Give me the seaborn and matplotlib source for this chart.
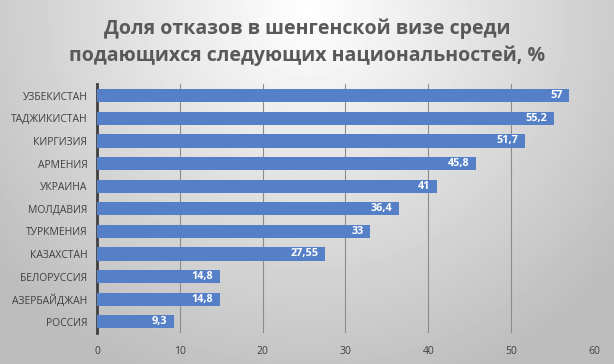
import numpy as np
import matplotlib.pyplot as plt
import seaborn as sns

countries = ["УЗБЕКИСТАН", "ТАДЖИКИСТАН", "КИРГИЗИЯ", "АРМЕНИЯ", "УКРАИНА",
             "МОЛДАВИЯ", "ТУРКМЕНИЯ", "КАЗАХСТАН", "БЕЛОРУССИЯ", "АЗЕРБАЙДЖАН", "РОССИЯ"]
refusal_pct = [57, 55.2, 51.7, 45.8, 41, 36.4, 33, 27.55, 14.8, 14.8, 9.3]
x_ticks = [0, 10, 20, 30, 40, 50, 60]

sns.set_style("white")
plt.rcParams['font.family'] = ['Open Sans', 'DejaVu Sans']

fig = plt.figure(figsize=(6.14, 3.64), dpi=100)

# radial grey background like the Excel chart style
bg = fig.add_axes([0, 0, 1, 1], zorder=-10)
yy, xx = np.mgrid[0:364, 0:614]
r = np.sqrt(((xx - 307) / 400.0) ** 2 + ((yy - 10) / 400.0) ** 2)
shade = 1.0 - 0.26 * np.clip(r, 0, 1)
bg.imshow(shade, cmap="gray", vmin=0, vmax=1, aspect="auto", extent=[0, 1, 0, 1])
bg.axis("off")

ax = fig.add_axes([0.158, 0.085, 0.8094, 0.683])
ax.patch.set_alpha(0)
sns.barplot(x=refusal_pct, y=countries, color="#5580C8", saturation=1,
            width=0.58, orient="h", ax=ax, zorder=3, linewidth=0)

for i, v in enumerate(refusal_pct):
    ax.text(v - 0.8, i, f"{v:g}".replace(".", ","), ha="right", va="center",
            color="white", fontsize=7.8, fontweight="bold", zorder=4)

ax.set_xlim(0, 60)
ax.set_ylim(10.5, -0.5)
ax.set_xticks(x_ticks)
ax.xaxis.grid(True, color="#8c8c8c", linewidth=0.8, zorder=0)
ax.tick_params(axis="both", length=0, labelsize=7.5, colors="#404040")
ax.tick_params(axis="x", pad=9)
ax.tick_params(axis="y", pad=7)
for s in ["top", "right", "bottom"]:
    ax.spines[s].set_visible(False)
ax.spines["left"].set_color("#404040")
ax.spines["left"].set_linewidth(2)
ax.set_xlabel("")
ax.set_ylabel("")

fig.text(0.5, 0.884, "Доля отказов в шенгенской визе среди\nподающихся следующих национальностей, %",
         ha="center", va="center", fontsize=14, fontweight="bold", color="#595959",
         linespacing=1.45)

fig.savefig("out.png", dpi=100)
